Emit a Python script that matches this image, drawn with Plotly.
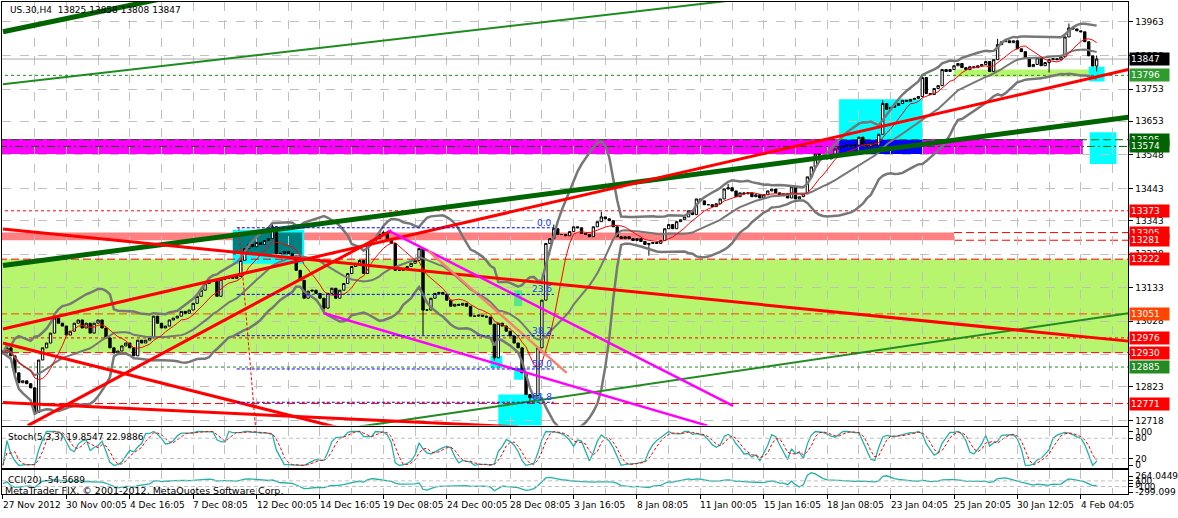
import plotly.graph_objects as go
import pandas as pd

# ---------------- DATA ----------------
title_text = "US.30,H4  13825 13858 13808 13847"
close = [
    12929, 12945, 12920, 12867, 12836, 12842, 12833, 12820, 12743, 12907,
    12945, 12960, 12991, 13038, 13022, 13013, 12985, 12997, 13022, 13032,
    13007, 13022, 12991, 13022, 13032, 13007, 12976, 12945, 12929, 12935,
    12951, 12960, 12945, 12920, 12969, 12960, 12969, 12976, 13044, 13022,
    13007, 13013, 13032, 13038, 13044, 13059, 13053, 13063, 13084, 13106,
    13125, 13146, 13156, 13153, 13106, 13159, 13162, 13168, 13162, 13168,
    13218, 13255, 13268, 13261, 13274, 13268, 13280, 13286, 13323, 13240,
    13240, 13246, 13240, 13230, 13187, 13156, 13100, 13122, 13125, 13115,
    13100, 13069, 13115, 13131, 13100, 13125, 13146, 13177, 13199, 13209,
    13218, 13177, 13271, 13280, 13286, 13299, 13305, 13286, 13271, 13187,
    13187, 13193, 13199, 13209, 13218, 13255, 13063, 13063, 13100, 13115,
    13118, 13112, 13094, 13075, 13081, 13078, 13084, 13075, 13044, 13044,
    13047, 13044, 13041, 13019, 12914, 13022, 13013, 12997, 12982, 12960,
    12945, 12867, 12799, 12789, 12796, 12945, 13094, 13271, 13286, 13317,
    13299, 13299, 13295, 13308, 13323, 13320, 13302, 13299, 13292, 13323,
    13339, 13354, 13348, 13342, 13323, 13292, 13286, 13292, 13286, 13280,
    13286, 13277, 13268, 13271, 13274, 13271, 13280, 13317, 13330, 13317,
    13339, 13345, 13354, 13373, 13361, 13410, 13404, 13392, 13392, 13386,
    13395, 13410, 13441, 13445, 13435, 13417, 13429, 13426, 13429, 13417,
    13423, 13413, 13423, 13435, 13441, 13429, 13420, 13426, 13413, 13448,
    13410, 13417, 13426, 13479, 13510, 13550, 13547, 13541, 13535, 13541,
    13566, 13572, 13575, 13578, 13575, 13578, 13603, 13581, 13575, 13584,
    13578, 13612, 13708, 13690, 13696, 13702, 13708, 13718, 13715, 13721,
    13724, 13730, 13789, 13739, 13736, 13755, 13764, 13814, 13808, 13814,
    13826, 13833, 13820, 13814, 13823, 13820, 13826, 13830, 13839, 13808,
    13845, 13892, 13901, 13904, 13898, 13904, 13879, 13870, 13851, 13823,
    13830, 13851, 13826, 13836, 13845, 13848, 13845, 13854, 13916, 13944,
    13941, 13935, 13932, 13901, 13857, 13825, 13847,
]
first_open = 12935
high_marks = {68: 13335, 96: 13311, 139: 13330, 151: 13370, 183: 13457,
              222: 13718, 232: 13798, 251: 13910, 269: 13958, 276: 13858}
low_marks = {8: 12735, 81: 13053, 106: 12985, 124: 12905, 133: 12774,
             163: 13233, 264: 13805, 276: 13808}

date_labels = ["27 Nov 2012", "30 Nov 00:05", "4 Dec 16:05", "7 Dec 08:05",
               "12 Dec 00:05", "14 Dec 16:05", "19 Dec 08:05", "24 Dec 00:05",
               "28 Dec 08:05", "3 Jan 16:05", "8 Jan 08:05", "11 Jan 00:05",
               "15 Jan 16:05", "18 Jan 08:05", "23 Jan 04:05", "25 Jan 20:05",
               "30 Jan 12:05", "4 Feb 04:05"]
label_step = 16

price_ticks = [13963, 13858, 13753, 13653, 13548, 13443, 13343, 13238,
               13133, 13028, 12923, 12823, 12718]

# price levels: (price, line colour, dash, label bg, start bar)
levels = [
    (13847, "#A8A8A8", "solid", "#000000", -1),
    (13796, "#1E8C1E", "3px,3px", "#2E9B2E", -1),
    (13595, "#006400", "8px,4px", "#006400", -1),
    (13574, "#006400", "8px,3px,2px,3px", "#006400", -1),
    (13373, "#FF0000", "3px,3px", "#FF0000", -1),
    (13305, "#FF0000", "8px,4px", "#FF0000", 240),
    (13281, "#FF0000", "8px,4px", "#FF0000", 240),
    (13222, "#FF0000", "8px,4px", "#FF0000", -1),
    (13051, "#FF4500", "8px,4px", "#FF4500", -1),
    (12976, "#FF0000", "3px,3px", "#FF0000", -1),
    (12930, "#FF0000", "8px,4px", "#FF0000", -1),
    (12885, "#228B22", "3px,3px", "#228B22", -1),
    (12771, "#FF0000", "8px,4px", "#FF0000", -1),
]

# zones: (bar0, bar1, price_top, price_bottom, colour)
zones = [
    (-1, 290, 13222, 12930, "#B8F56E"),
    (-1, 240, 13305, 13281, "#FF8080"),
    (-1, 272.5, 13597, 13550, "#FF00FF"),
    (240, 277, 13814, 13792, "#B8F56E"),
    (58, 76, 13314, 13208, "#00FFFF"),
    (58, 75.5, 13305, 13236, "#008080"),
    (211, 232, 13721, 13550, "#00FFFF"),
    (211, 232, 13595, 13550, "#0000FF"),
    (274.25, 281, 13618, 13519, "#00FFFF"),
    (274, 278, 13823, 13777, "#00FFFF"),
    (125, 136, 12799, 12690, "#00FFFF"),
    (123, 126, 12920, 12882, "#00FFFF"),
    (129, 131.25, 12882, 12845, "#00FFFF"),
    (129, 131, 13125, 13075, "#55E888"),
]

# trend lines: (bar0, price0, bar1, price1, colour, width)
trendlines = [
    (0, 13932, 45, 14048, "#006400", 5),
    (0, 13768, 200, 14053, "#1E8C1E", 2),
    (0, 13202, 284, 13665, "#006400", 5),
    (90, 12699, 284, 13053, "#228B22", 2),
    (0, 13316, 284, 12966, "#FF0000", 3),
    (0, 13004, 284, 13814, "#FF0000", 3),
    (0, 12960, 90, 12679, "#FF0000", 3),
    (0, 12774, 130, 12698, "#FF0000", 3),
    (6.25, 12702, 98, 13311, "#FF0000", 3),
    (97.25, 13311, 184.25, 12764, "#FF00FF", 2.5),
    (81, 13053, 177.75, 12702, "#FF00FF", 2.5),
    (107.25, 13249, 142.25, 12867, "#FA8072", 2.5),
]

fib_names = ["0.0", "23.6", "38.2", "50.0", "61.8"]
fib_prices = [13320, 13112, 12983, 12879, 12775]
fib_span = (59, 139)
fib_base = (59.5, 13320, 65.5, 12438)

stoch_text = "Stoch(5,3,3) 19.8547 22.9886"
cci_text = "CCI(20) -54.5689"
copyright_text = "MetaTrader FIX, \u00a9 2001-2012, MetaQuotes Software Corp."
cci_ticks = [264.0449, 100, 0, -100, -299.099]
cci_ticktext = ["264.0449", "100", "0", "-100", "-299.099"]

# ---------------- derived ----------------
n = len(close)
bars = list(range(n))
opens = [first_open] + close[:-1]
highs = [max(o, c) for o, c in zip(opens, close)]
lows = [min(o, c) for o, c in zip(opens, close)]
for k, v in high_marks.items():
    highs[k] = max(highs[k], v)
for k, v in low_marks.items():
    lows[k] = min(lows[k], v)

s = pd.Series(close, dtype=float)
mid = s.rolling(20, min_periods=1).mean()
sd = s.rolling(20, min_periods=1).std(ddof=0)
bb_up, bb_lo = mid + 2 * sd, mid - 2 * sd
ma_fast = s.rolling(8, min_periods=1).mean()

H = pd.Series(highs, dtype=float)
L = pd.Series(lows, dtype=float)
hh = H.rolling(5, min_periods=1).max()
ll = L.rolling(5, min_periods=1).min()
num = (s - ll).rolling(3, min_periods=1).sum()
den = (hh - ll).rolling(3, min_periods=1).sum()
stoch_main = (num / den * 100).fillna(50)
stoch_sig = stoch_main.rolling(3, min_periods=1).mean()

tp = (H + L + s) / 3
tp_ma = tp.rolling(20, min_periods=1).mean()
md = tp.rolling(20, min_periods=1).apply(lambda a: abs(a - a.mean()).mean(), raw=True)
cci = ((tp - tp_ma) / (0.015 * md.replace(0, 1))).fillna(0)

# ---------------- figure ----------------
W, Hh = 1178, 518
FONT = "DejaVu Sans"
X0, X1 = -0.25, 284
xdom = [2 / W, 1139 / W]
def ydom(top_px, bot_px):
    return [1 - bot_px / Hh, 1 - top_px / Hh]

fig = go.Figure()
fig.add_trace(go.Candlestick(
    x=bars, open=opens, high=highs, low=lows, close=close,
    xaxis="x", yaxis="y", showlegend=False, hoverinfo="skip", whiskerwidth=0,
    increasing=dict(line=dict(color="black", width=1), fillcolor="white"),
    decreasing=dict(line=dict(color="black", width=1), fillcolor="black")))
for ser, w in [(bb_up, 2.5), (mid, 2), (bb_lo, 2.5)]:
    fig.add_trace(go.Scatter(x=bars, y=ser, mode="lines", xaxis="x", yaxis="y",
                             line=dict(color="#777777", width=w), showlegend=False,
                             hoverinfo="skip"))
fig.add_trace(go.Scatter(x=bars, y=ma_fast, mode="lines", xaxis="x", yaxis="y",
                         line=dict(color="#FF0000", width=1), showlegend=False,
                         hoverinfo="skip"))
fig.add_trace(go.Scatter(x=bars, y=stoch_main, mode="lines", xaxis="x2", yaxis="y2",
                         line=dict(color="#20B2AA", width=1.3), showlegend=False,
                         hoverinfo="skip"))
fig.add_trace(go.Scatter(x=bars, y=stoch_sig, mode="lines", xaxis="x2", yaxis="y2",
                         line=dict(color="#FF0000", width=1, dash="3px,2px"),
                         showlegend=False, hoverinfo="skip"))
fig.add_trace(go.Scatter(x=bars, y=cci, mode="lines", xaxis="x3", yaxis="y3",
                         line=dict(color="#20B2AA", width=1.3), showlegend=False,
                         hoverinfo="skip"))

shapes = []
for p, col, dash, _, b0 in levels:
    shapes.append(dict(type="line", xref="x", yref="y", x0=b0, x1=X1, y0=p, y1=p,
                       line=dict(color=col, width=1, dash=dash),
                       layer="below" if b0 > 0 else "between"))
for b0, b1, pt, pb, col in zones:
    shapes.append(dict(type="rect", xref="x", yref="y", x0=b0, x1=b1, y0=pb, y1=pt,
                       fillcolor=col, line=dict(width=0), layer="below"))
for b0, p0, b1, p1, col, w in trendlines:
    shapes.append(dict(type="line", xref="x", yref="y", x0=b0, x1=b1, y0=p0, y1=p1,
                       line=dict(color=col, width=w), layer="above"))
for p in fib_prices:
    shapes.append(dict(type="line", xref="x", yref="y", x0=fib_span[0], x1=fib_span[1],
                       y0=p, y1=p, line=dict(color="#0000FF", width=1, dash="3px,2px"),
                       layer="above"))
shapes.append(dict(type="line", xref="x", yref="y", x0=fib_base[0], y0=fib_base[1],
                   x1=fib_base[2], y1=fib_base[3],
                   line=dict(color="#FF0000", width=1, dash="3px,2px"), layer="above"))
for lv in (80, 20):
    shapes.append(dict(type="line", xref="x2", yref="y2", x0=X0, x1=X1, y0=lv, y1=lv,
                       line=dict(color="#C0C0C0", width=1, dash="4px,3px")))
for lv in (100, -100):
    shapes.append(dict(type="line", xref="x3", yref="y3", x0=X0, x1=X1, y0=lv, y1=lv,
                       line=dict(color="#C0C0C0", width=1, dash="4px,3px")))

ann = []
for name, p in zip(fib_names, fib_prices):
    ann.append(dict(x=fib_span[1], y=p, xref="x", yref="y", text=name, showarrow=False,
                    xanchor="right", yanchor="bottom", yshift=-2,
                    font=dict(family=FONT, size=9, color="#2040FF")))
for p, _, _, bg, _ in levels:
    ann.append(dict(x=1140 / W, y=p, xref="paper", yref="y", text=str(p), showarrow=False,
                    xanchor="left", yanchor="middle", bgcolor=bg, width=37, align="left",
                    borderpad=1, font=dict(family=FONT, size=9, color="white")))
for k, lab in enumerate(date_labels):
    ann.append(dict(x=k * label_step, y=1 - 508 / Hh, xref="x3", yref="paper", text=lab,
                    showarrow=False, xanchor="left", yanchor="middle", xshift=-2,
                    font=dict(family=FONT, size=9, color="black")))
for txt, ypx, xpx in [(title_text, 10, 8), (stoch_text, 440, 6), (cci_text, 483, 6),
                      (copyright_text, 493, 3)]:
    ann.append(dict(x=xpx / W, y=1 - ypx / Hh, xref="paper", yref="paper", text=txt,
                    showarrow=False, xanchor="left", yanchor="middle",
                    font=dict(family=FONT, size=9.5 if txt == copyright_text else 9,
                              color="black")))

grid = dict(showgrid=True, gridcolor="#C0C0C0", griddash="dash", gridwidth=1)
def xax(ticks):
    d = dict(domain=xdom, range=[X0, X1], tickmode="linear", tick0=0, dtick=label_step,
             showticklabels=False, zeroline=False, showline=True, mirror=True,
             linecolor="black", linewidth=1, ticks="outside" if ticks else "",
             ticklen=4, tickcolor="black",
             minor=dict(dtick=8, tick0=0, showgrid=True, gridcolor="#C0C0C0",
                        griddash="dash", ticks=""), rangeslider=dict(visible=False),
             **grid)
    return d

fig.update_layout(
    width=W, height=Hh, margin=dict(l=0, r=0, t=0, b=0),
    paper_bgcolor="white", plot_bgcolor="white", showlegend=False,
    boxgap=0.15,
    xaxis=dict(**xax(False), anchor="y"),
    xaxis2=dict(**xax(False), anchor="y2", matches="x"),
    xaxis3=dict(**xax(True), anchor="y3", matches="x"),
    yaxis=dict(domain=ydom(2, 428), range=[12702.4, 14025.1], side="right", anchor="x",
               tickmode="array", tickvals=price_ticks, ticktext=[str(v) for v in price_ticks],
               ticks="outside", ticklen=4, tickcolor="black", showline=True, mirror=True,
               linecolor="black", zeroline=False,
               tickfont=dict(family=FONT, size=9, color="black"), **grid),
    yaxis2=dict(domain=ydom(429, 471), range=[-8.8, 114.7], side="right", anchor="x2",
                tickmode="array", tickvals=[100, 80, 20, 0], ticktext=["100", "80", "20", "0"],
                ticks="outside", ticklen=4, tickcolor="black", showline=True, mirror=True,
                linecolor="black", zeroline=False, showgrid=False,
                tickfont=dict(family=FONT, size=9, color="black")),
    yaxis3=dict(domain=ydom(473, 497), range=[-370, 475], side="right", anchor="x3",
                tickmode="array", tickvals=cci_ticks, ticktext=cci_ticktext,
                ticks="outside", ticklen=4, tickcolor="black", showline=True, mirror=True,
                linecolor="black", zeroline=False, showgrid=False,
                tickfont=dict(family=FONT, size=9, color="black")),
    shapes=shapes, annotations=ann,
)
fig.write_html("out.html", config={"displayModeBar": False, "staticPlot": True},
               post_script="document.body.style.margin='0';document.body.style.overflow='hidden';")
